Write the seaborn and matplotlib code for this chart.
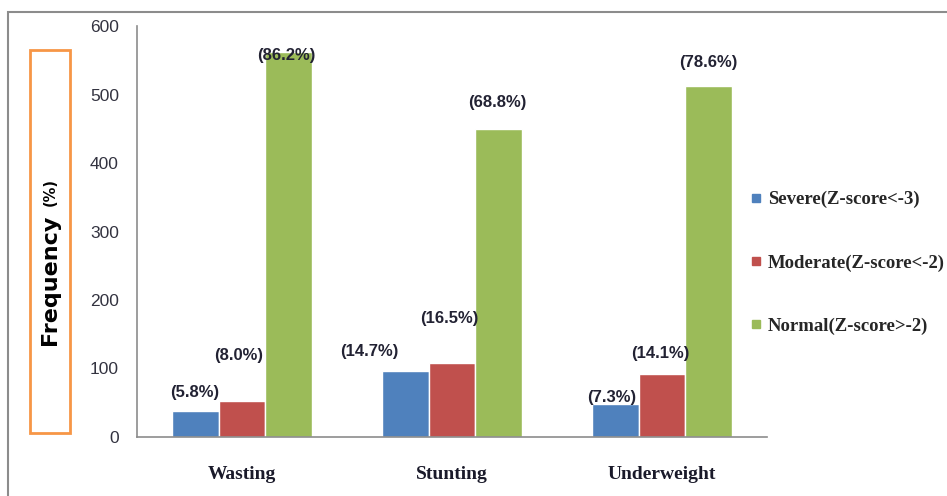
import pandas as pd
import numpy as np
from matplotlib import pyplot as plt
from matplotlib.patches import Rectangle
from matplotlib.lines import Line2D
import seaborn as sns

# Data (counts, with percentages as labels)
categories = ['Wasting', 'Stunting', 'Underweight']
status = ['Severe(Z-score<-3)', 'Moderate(Z-score<-2)', 'Normal(Z-score>-2)']
severe = [38, 96, 48]
moderate = [52, 108, 92]
normal = [562, 449, 512]
severe_pct = ['(5.8%)', '(14.7%)', '(7.3%)']
moderate_pct = ['(8.0%)', '(16.5%)', '(14.1%)']
normal_pct = ['(86.2%)', '(68.8%)', '(78.6%)']
y_ticks = [0, 100, 200, 300, 400, 500, 600]

colors = ['#4F81BD', '#C0504D', '#9BBB59']

df = pd.DataFrame({
    'Category': categories * 3,
    'Status': [s for s in status for _ in categories],
    'Frequency': severe + moderate + normal,
})
pct_labels = [severe_pct, moderate_pct, normal_pct]

# label offsets (pixels) from the top-centre of each bar
offsets = [
    [(-1, 18), (-36, 20), (-4, 7)],
    [(-3, 46), (-3, 45), (-2, 20)],
    [(-2, -3), (-1, 27), (0, 24)],
]

sns.set_style('white')
plt.rcParams['font.family'] = ['Liberation Sans', 'DejaVu Sans']

fig = plt.figure(figsize=(9.47, 4.96), dpi=100)
ax = fig.add_axes([137 / 947, 59 / 496, 630 / 947, 411 / 496])

sns.barplot(data=df, x='Category', y='Frequency', hue='Status',
            hue_order=status, order=categories, palette=colors,
            saturation=1, width=0.667, legend=False, ax=ax)

# Percent labels above bars
for i, cont in enumerate(ax.containers):
    for j, bar in enumerate(cont):
        cx = bar.get_x() + bar.get_width() / 2
        ax.annotate(pct_labels[i][j], xy=(cx, bar.get_height()),
                    xytext=offsets[i][j], textcoords='offset pixels',
                    ha='center', va='center', fontsize=12,
                    fontweight='bold', color='#222233',
                    annotation_clip=False)

# Axes styling (Excel-like)
ax.set_xlim(-0.5, 2.5)
ax.set_ylim(0, 600)
ax.set_yticks(y_ticks)
ax.set_xlabel('')
ax.set_ylabel('')
for side in ['top', 'right']:
    ax.spines[side].set_visible(False)
for side in ['left', 'bottom']:
    ax.spines[side].set_color('#8c8c8c')
    ax.spines[side].set_linewidth(1.2)

ax.tick_params(axis='y', length=5, width=1, color='#8c8c8c', pad=8,
               labelsize=12.5, labelcolor='#333340')
ax.set_xticks([-0.5, 0.5, 1.5, 2.5], minor=True)
ax.tick_params(axis='x', which='minor', length=5, width=1, color='#8c8c8c')
ax.tick_params(axis='x', which='major', length=0, pad=21)
ax.set_xticklabels(categories, fontsize=14, fontweight='bold',
                   family='Liberation Serif', color='#1a1a2a')

# Y label inside orange box
fig.add_artist(Rectangle((30 / 947, 1 - 433 / 496), 40 / 947, 383 / 496,
                         transform=fig.transFigure, fill=False,
                         edgecolor='#F79646', linewidth=2))
fig.text(50 / 947, 1 - 280 / 496, 'Frequency', rotation=90, ha='center',
         va='center', fontsize=16, fontweight='heavy', family='DejaVu Sans',
         color='black')
fig.text(50 / 947, 1 - 192 / 496, '(%)', rotation=90, ha='center',
         va='center', fontsize=10.5, fontweight='bold', family='DejaVu Sans',
         color='black')

# Outer frame
fig.add_artist(Rectangle((8 / 947, -0.1), 1.2, 1.1 - 12 / 496,
                         transform=fig.transFigure, fill=False,
                         edgecolor='#8c8c8c', linewidth=1.5))

# Legend
handles = [Line2D([0], [0], marker='s', linestyle='', markersize=5.5,
                  markerfacecolor=c, markeredgecolor=c) for c in colors]
fig.legend(handles, status, loc='center left',
           bbox_to_anchor=(733 / 947, 1 - 263 / 496), frameon=False,
           prop={'family': 'Liberation Serif', 'weight': 'bold', 'size': 13.5},
           labelspacing=2.45, handlelength=0.6, handletextpad=0.35)

fig.savefig('out.png', dpi=100)
